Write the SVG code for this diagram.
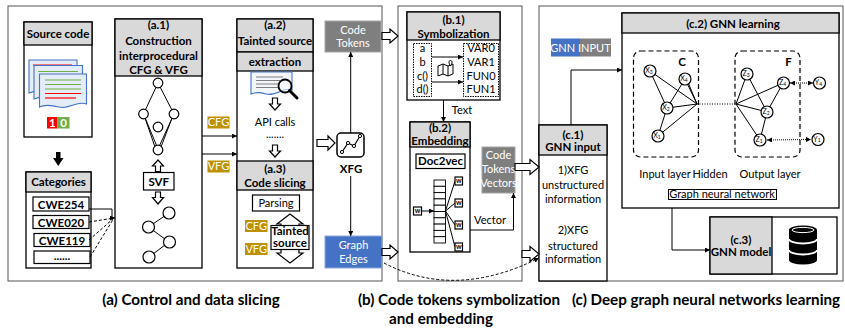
<svg xmlns="http://www.w3.org/2000/svg" width="845" height="329" viewBox="0 0 845 329">
<defs>
<style>
text{font-family:Lato,"Liberation Sans",Arial,sans-serif;fill:#000}
.h{font-size:11.5px;font-weight:bold;text-anchor:middle}
.n{font-size:11px;text-anchor:middle}
.w{fill:#fff}
.cap{font-size:15.2px;font-weight:bold;text-anchor:middle}
.panel{fill:#fff;stroke:#555;stroke-width:1}
.box{fill:#fff;stroke:#000;stroke-width:1.3}
.hdr{fill:#d9d9d9;stroke:#000;stroke-width:1.3}
.ln{fill:none;stroke:#000;stroke-width:1}
.dash{fill:none;stroke:#000;stroke-width:1;stroke-dasharray:3,2}
.blk{fill:#fff;stroke:#000;stroke-width:1.2}
.gold{fill:#bf9000}
.gray{fill:#7f7f7f;stroke:#a6a6a6;stroke-width:1}
.blue{fill:#4472c4;stroke:#8faadc;stroke-width:1}
.nd{fill:#fff;stroke:#000;stroke-width:1.2}
.lab{font-size:7px;text-anchor:middle}
.sub{font-size:5px}
.page{fill:#e4ecf7;stroke:#4472c4;stroke-width:1.1}
</style>
<marker id="ah" viewBox="0 0 6 6" refX="6" refY="3" markerWidth="5" markerHeight="5" markerUnits="userSpaceOnUse" orient="auto-start-reverse">
<path d="M0,0 L6,3 L0,6 z" fill="#000"/>
</marker>
</defs>

<!-- outer panels -->
<rect class="panel" x="8" y="6" width="374" height="275"/>
<rect class="panel" x="398" y="6" width="124" height="275"/>
<rect class="panel" x="539" y="6" width="304" height="275"/>

<!-- (a) source code -->
<g id="source-code">
<rect class="box" x="24" y="22" width="68" height="115"/>
<rect class="hdr" x="24" y="22" width="68" height="23"/>
<text class="h" x="58" y="37.5">Source code</text>
<path class="page" d="M29,60 H77 V90 C68,86 60,96 50,93 C42,91 36,90 29,93 Z"/>
<line x1="33" y1="65" x2="72" y2="65" stroke="#ff0000" stroke-width="1"/>
<path class="page" d="M34,65.5 H82.5 V96 C73,92 65,102 55,99 C47,97 41,96 34,99 Z"/>
<line x1="38" y1="71.5" x2="78" y2="71.5" stroke="#70ad47" stroke-width="1.2"/>
<path class="page" d="M39.5,74 H86.5 V104 C77,100 69,110 59,107 C51,105 45,104 39.5,107 Z" fill="#eef3fa"/>
<g stroke-width="1.2">
<line x1="45" y1="80" x2="81" y2="80" stroke="#70ad47"/>
<line x1="45" y1="84.5" x2="81" y2="84.5" stroke="#70ad47"/>
<line x1="45" y1="89" x2="81" y2="89" stroke="#70ad47"/>
<line x1="45" y1="93.5" x2="81" y2="93.5" stroke="#ff0000"/>
<line x1="45" y1="98" x2="76" y2="98" stroke="#ff0000"/>
</g>
<rect x="47" y="117" width="10.5" height="11.5" fill="#ff0000"/>
<rect x="57.5" y="117" width="12" height="11.5" fill="#70ad47"/>
<text class="h w" x="52.3" y="126.5">1</text>
<text class="h w" x="63.5" y="126.5">0</text>
</g>

<path id="down-arrow" d="M56,152 H60.5 V158 H63.5 L58.2,166 L53,158 H56 Z" fill="#000"/>

<!-- (a) categories -->
<g id="categories">
<rect class="box" x="26" y="172" width="65" height="96"/>
<rect class="hdr" x="26" y="172" width="65" height="20"/>
<text class="h" x="58.5" y="186" font-size="12">Categories</text>
<rect class="blk" x="33" y="197" width="56" height="14" stroke-width="1.6"/>
<text class="h" x="61" y="208.5" font-size="12">CWE254</text>
<rect class="blk" x="33" y="215.5" width="56" height="13" stroke-width="1.6"/>
<text class="h" x="61" y="226.5" font-size="12">CWE020</text>
<rect class="blk" x="34" y="233.5" width="56" height="13" stroke-width="1.6"/>
<text class="h" x="62" y="244.5" font-size="12">CWE119</text>
<rect class="blk" x="34" y="251" width="56" height="12.5" stroke-width="1.6"/>
<text class="h" x="62" y="259.5">......</text>
</g>

<!-- (a.1) -->
<g id="a1">
<rect class="box" x="115" y="19" width="87" height="249"/>
<rect class="hdr" x="115" y="19" width="87" height="57"/>
<text class="h" x="158.5" y="29">(a.1)</text>
<text class="h" x="158.5" y="44.5">Construction</text>
<text class="h" x="158.5" y="60">interprocedural</text>
<text class="h" x="158.5" y="74">CFG &amp; VFG</text>
<g class="ln" stroke-width="1.2">
<line x1="158" y1="83" x2="143.5" y2="114"/>
<line x1="158" y1="83" x2="174" y2="114"/>
<line x1="143.5" y1="114" x2="158" y2="149"/>
<line x1="174" y1="114" x2="158" y2="149"/>
<line x1="145" y1="118" x2="155" y2="147"/>
<line x1="172" y1="118" x2="161" y2="147"/>
</g>
<circle class="nd" cx="158" cy="83" r="4.8"/>
<circle class="nd" cx="143.5" cy="114" r="4.8"/>
<circle class="nd" cx="174" cy="114" r="4.8"/>
<circle class="nd" cx="158" cy="127" r="4.8"/>
<circle class="nd" cx="158" cy="150" r="4.8"/>
<path class="blk" d="M158,160 L163.5,166 H160.5 V171.5 H155.5 V166 H152.5 Z"/>
<rect class="blk" x="143.5" y="172.5" width="30.5" height="17.5"/>
<text class="h" x="158.8" y="185.5">SVF</text>
<path class="blk" d="M155.5,192 H160.5 V197.5 H163.5 L158,204 L152.5,197.5 H155.5 Z"/>
<g class="ln" stroke-width="1.2">
<line x1="169" y1="213" x2="148.5" y2="227"/>
<line x1="148.5" y1="227" x2="169" y2="242" marker-end="url(#ah)"/>
<line x1="169" y1="242" x2="149" y2="257" marker-end="url(#ah)"/>
</g>
<circle class="nd" cx="169" cy="213" r="6"/>
<circle class="nd" cx="148.5" cy="227" r="6"/>
<circle class="nd" cx="169.5" cy="242" r="6"/>
<circle class="nd" cx="149" cy="257" r="6"/>
</g>

<!-- CFG / VFG tags between a.1 and a.2 -->
<rect class="gold" x="207.5" y="116.5" width="22" height="12"/>
<text class="n w" x="218.5" y="126.3" font-size="10.5">CFG</text>
<rect class="gold" x="207.5" y="160.5" width="22" height="12"/>
<text class="n w" x="218.5" y="170.3" font-size="10.5">VFG</text>

<!-- (a.2) + (a.3) -->
<g id="a2">
<rect class="box" x="237" y="19" width="76" height="249"/>
<rect class="hdr" x="237" y="19" width="76" height="33"/>
<rect class="hdr" x="237" y="52" width="76" height="19"/>
<text class="h" x="275" y="29">(a.2)</text>
<text class="h" x="275" y="44.5">Tainted source</text>
<text class="h" x="275" y="66">extraction</text>
<path d="M251,72 H292 V90 C284,86 276,97 266,94 C259,92 255,92 251,94 Z" fill="#f2f5fa" stroke="#4472c4" stroke-width="1.1"/>
<g stroke="#7f7f7f" stroke-width="1">
<line x1="256" y1="77" x2="283" y2="77"/>
<line x1="256" y1="80.5" x2="280" y2="80.5"/>
<line x1="256" y1="84" x2="280" y2="84"/>
<line x1="256" y1="87.5" x2="279" y2="87.5"/>
</g>
<circle cx="285" cy="86" r="6.5" fill="#fff" fill-opacity="0.6" stroke="#000" stroke-width="1.8"/>
<line x1="289.5" y1="90.5" x2="297" y2="98" stroke="#000" stroke-width="3" stroke-linecap="round"/>
<path class="blk" d="M272.5,98 H277.5 V104 H280.5 L275,110 L269.5,104 H272.5 Z"/>
<text class="n" x="275" y="126">API calls</text>
<text class="n" x="275" y="137.5" font-size="8">.......</text>
<path class="blk" d="M272.5,145 H277.5 V151 H280.5 L275,157 L269.5,151 H272.5 Z"/>
</g>
<g id="a3">
<rect class="hdr" x="237" y="161" width="76" height="29"/>
<text class="h" x="275" y="173">(a.3)</text>
<text class="h" x="275" y="187">Code slicing</text>
<rect class="blk" x="252.5" y="195" width="47" height="16" stroke-width="1"/>
<text class="n" x="276" y="207">Parsing</text>
<rect class="gold" x="245" y="220" width="22.5" height="12"/>
<text class="n w" x="256.2" y="229.8" font-size="10.5">CFG</text>
<rect class="gold" x="245" y="243" width="22.5" height="12"/>
<text class="n w" x="256.2" y="252.8" font-size="10.5">VFG</text>
<path class="blk" d="M290,214 L303,224 H299 V253 H303 L290,263 L277,253 H281 V224 H277 Z"/>
<rect class="blk" x="271" y="225.5" width="38" height="24"/>
<text class="h" x="290" y="234.5" font-size="8.6">Tainted</text>
<text class="h" x="290" y="247" font-size="8.6">source</text>
</g>

<!-- code tokens / XFG / graph edges -->
<g id="code-tokens">
<rect class="gray" x="325" y="21" width="56" height="31"/>
<text class="n w" x="353" y="33.5" font-size="11.5">Code</text>
<text class="n w" x="353" y="47" font-size="11.5">Tokens</text>
</g>
<g id="xfg">
<rect x="337" y="133" width="27" height="24" rx="4" fill="#fff" stroke="#000" stroke-width="1.5"/>
<polyline points="342,152 348,143 354,146 360,136" fill="none" stroke="#000" stroke-width="1.2"/>
<circle cx="342" cy="152" r="1.6" fill="#fff" stroke="#000"/>
<circle cx="348" cy="143" r="1.6" fill="#fff" stroke="#000"/>
<circle cx="354" cy="146" r="1.6" fill="#fff" stroke="#000"/>
<circle cx="360" cy="136" r="1.6" fill="#fff" stroke="#000"/>
<text class="h" x="351" y="173">XFG</text>
</g>
<g id="graph-edges">
<rect class="blue" x="325" y="236" width="57" height="32"/>
<text class="n w" x="353.5" y="248.5" font-size="11.5">Graph</text>
<text class="n w" x="353.5" y="262.5" font-size="11.5">Edges</text>
</g>

<!-- (b.1) -->
<g id="b1">
<rect class="box" x="407" y="12" width="93" height="88"/>
<rect class="hdr" x="407" y="12" width="93" height="28"/>
<text class="h" x="453.5" y="24">(b.1)</text>
<text class="h" x="453.5" y="37.5">Symbolization</text>
<rect x="413.5" y="43.5" width="18" height="53" fill="#fff" stroke="#000" stroke-width="1" stroke-dasharray="1.5,1"/>
<rect x="463.5" y="43.5" width="35" height="53" fill="#fff" stroke="#000" stroke-width="1" stroke-dasharray="1.5,1"/>
<text class="n" x="422.5" y="52">a</text>
<text class="n" x="422.5" y="66">b</text>
<text class="n" x="422.5" y="80">c()</text>
<text class="n" x="422.5" y="93">d()</text>
<text class="n" x="481" y="52">VAR0</text>
<text class="n" x="481" y="66">VAR1</text>
<text class="n" x="481" y="80">FUN0</text>
<text class="n" x="481" y="93">FUN1</text>
<line class="ln" x1="432" y1="57" x2="463" y2="57" marker-end="url(#ah)"/>
<line class="ln" x1="432" y1="82" x2="463" y2="82" marker-end="url(#ah)"/>
<path d="M438,66 L443,64 L448,66 L453,64 V74 L448,76 L443,74 L438,76 Z M443,64 V74 M448,66 V76" fill="#fff" stroke="#000" stroke-width="1"/>
<path d="M450.5,66 C448.5,63 448.5,60.5 450.5,60.5 C452.5,60.5 452.5,63 450.5,66 Z" fill="#fff" stroke="#000" stroke-width="1"/>
</g>

<!-- (b.2) -->
<g id="b2">
<rect class="box" x="410" y="122" width="60" height="130"/>
<rect class="hdr" x="410" y="122" width="60" height="25"/>
<text class="h" x="440" y="132">(b.2)</text>
<text class="h" x="440" y="145">Embedding</text>
<rect class="blk" x="416" y="154" width="49" height="14.5" stroke-width="1"/>
<text class="h" x="440.5" y="165">Doc2vec</text>
<g fill="#fff" stroke="#000" stroke-width="0.9">
<rect x="434" y="180" width="11.5" height="6.3"/>
<rect x="434" y="186.3" width="11.5" height="6.3"/>
<rect x="434" y="192.6" width="11.5" height="6.3"/>
<rect x="434" y="198.9" width="11.5" height="6.3"/>
<rect x="434" y="205.2" width="11.5" height="6.3"/>
<rect x="434" y="211.5" width="11.5" height="6.3"/>
<rect x="434" y="217.8" width="11.5" height="6.3"/>
<rect x="434" y="224.1" width="11.5" height="6.3"/>
<rect x="434" y="230.4" width="11.5" height="6.3"/>
<rect x="434" y="236.7" width="11.5" height="6.3"/>
</g>
<rect class="blk" x="413.5" y="207" width="8" height="8"/>
<text class="lab" x="417.5" y="213.2" font-weight="bold" font-size="6.5">w</text>
<line class="ln" x1="421.5" y1="211" x2="434" y2="211" marker-end="url(#ah)"/>
<g class="ln">
<line x1="445.5" y1="211" x2="455" y2="181"/>
<line x1="445.5" y1="211" x2="455" y2="203"/>
<line x1="445.5" y1="211" x2="455" y2="225"/>
<line x1="445.5" y1="211" x2="455" y2="247"/>
</g>
<rect class="blk" x="455" y="177" width="7.5" height="8"/>
<text class="lab" x="458.7" y="183.2" font-weight="bold" font-size="6.5">w</text>
<rect class="blk" x="455" y="199" width="7.5" height="8"/>
<text class="lab" x="458.7" y="205.2" font-weight="bold" font-size="6.5">w</text>
<rect class="blk" x="455" y="221" width="7.5" height="8"/>
<text class="lab" x="458.7" y="227.2" font-weight="bold" font-size="6.5">w</text>
<rect class="blk" x="455" y="243" width="7.5" height="8"/>
<text class="lab" x="458.7" y="249.2" font-weight="bold" font-size="6.5">w</text>
</g>
<g id="code-tokens-vectors">
<rect class="gray" x="482" y="147" width="33" height="46"/>
<text class="n w" x="498.5" y="159">Code</text>
<text class="n w" x="498.5" y="173">Tokens</text>
<text class="n w" x="498.5" y="187">Vectors</text>
</g>

<!-- (c) GNN input legend -->
<g id="gnn-legend">
<rect x="551" y="38.5" width="29" height="18" fill="#4472c4"/>
<rect x="580" y="38.5" width="31" height="18" fill="#7f7f7f"/>
<text class="n w" x="580.5" y="51.5">GNN INPUT</text>
</g>

<!-- (c.1) -->
<g id="c1">
<rect class="box" x="539" y="125" width="68" height="156"/>
<rect class="hdr" x="539" y="125" width="68" height="30"/>
<text class="h" x="573" y="139">(c.1)</text>
<text class="h" x="573" y="151">GNN input</text>
<text class="n" x="573" y="174">1)XFG</text>
<text class="n" x="573" y="189">unstructured</text>
<text class="n" x="573" y="203">information</text>
<text class="n" x="573" y="234">2)XFG</text>
<text class="n" x="573" y="249.5">structured</text>
<text class="n" x="573" y="263">information</text>
</g>

<!-- (c.2) -->
<g id="c2">
<rect class="box" x="622" y="13" width="217" height="195"/>
<rect class="hdr" x="622" y="13" width="217" height="20"/>
<text class="h" x="733" y="27.5">(c.2)  GNN learning</text>
<rect x="633.5" y="51" width="65" height="106" rx="7" fill="none" stroke="#000" stroke-width="1.2" stroke-dasharray="5,3"/>
<rect x="735" y="51" width="65" height="106" rx="7" fill="none" stroke="#000" stroke-width="1.2" stroke-dasharray="5,3"/>
<text class="h" x="682" y="66">C</text>
<text class="h" x="788.5" y="66">F</text>
<g class="ln">
<line x1="650" y1="71" x2="697" y2="104"/>
<line x1="650" y1="71" x2="667" y2="108"/>
<line x1="685" y1="79" x2="697" y2="104"/>
<line x1="687" y1="80" x2="697" y2="104"/>
<line x1="685" y1="79" x2="667" y2="108"/>
<line x1="667" y1="108" x2="697" y2="104"/>
<line x1="667" y1="108" x2="658" y2="136"/>
<line x1="658" y1="136" x2="697" y2="104"/>
<line x1="697" y1="104" x2="736" y2="104" stroke-dasharray="1,1.5"/>
<line x1="736" y1="104" x2="747" y2="74"/>
<line x1="736" y1="104" x2="783" y2="83"/>
<line x1="736" y1="104" x2="767" y2="112"/>
<line x1="736" y1="104" x2="760" y2="140"/>
<line x1="747" y1="74" x2="767" y2="112"/>
<line x1="783" y1="83" x2="767" y2="112"/>
<line x1="767" y1="112" x2="760" y2="140"/>
<line x1="790" y1="83" x2="813" y2="83" stroke-dasharray="1,1" marker-start="url(#ah)" marker-end="url(#ah)"/>
<line x1="767" y1="140" x2="811" y2="139.5" stroke-dasharray="1,1" marker-start="url(#ah)" marker-end="url(#ah)"/>
</g>
<circle class="nd" cx="650" cy="71" r="6"/>
<text class="lab" x="649" y="73.3">X<tspan class="sub" dy="0.5">3</tspan></text>
<circle class="nd" cx="685" cy="79" r="6"/>
<text class="lab" x="684" y="81.3">X<tspan class="sub" dy="0.5">4</tspan></text>
<circle class="nd" cx="667" cy="108" r="6"/>
<text class="lab" x="666" y="110.3">X<tspan class="sub" dy="0.5">2</tspan></text>
<circle class="nd" cx="658" cy="136" r="6"/>
<text class="lab" x="657" y="138.3">X<tspan class="sub" dy="0.5">1</tspan></text>
<circle class="nd" cx="747" cy="74" r="6"/>
<text class="lab" x="746" y="76.3">Z<tspan class="sub" dy="0.5">3</tspan></text>
<circle class="nd" cx="783.5" cy="83" r="6"/>
<text class="lab" x="782.5" y="85.3">Z<tspan class="sub" dy="0.5">4</tspan></text>
<circle class="nd" cx="767" cy="112" r="6"/>
<text class="lab" x="766" y="114.3">Z<tspan class="sub" dy="0.5">2</tspan></text>
<circle class="nd" cx="760" cy="140" r="6"/>
<text class="lab" x="759" y="142.3">Z<tspan class="sub" dy="0.5">1</tspan></text>
<circle class="nd" cx="819.5" cy="83" r="6"/>
<text class="lab" x="818.5" y="85.3">Y<tspan class="sub" dy="0.5">4</tspan></text>
<circle class="nd" cx="818" cy="139.5" r="6"/>
<text class="lab" x="817" y="141.8">Y<tspan class="sub" dy="0.5">1</tspan></text>
<text class="n" x="665" y="178">Input layer</text>
<text class="n" x="710" y="178">Hidden</text>
<text class="n" x="770" y="178">Output layer</text>
<rect x="668.5" y="189.5" width="108" height="10" fill="#fff" stroke="#000" stroke-width="1"/>
<text class="n" x="722" y="198" font-size="10">Graph neural network</text>
</g>

<!-- (c.3) -->
<g id="c3">
<rect class="box" x="710" y="217" width="127" height="57"/>
<rect class="hdr" x="710" y="217" width="62" height="57"/>
<text class="h" x="741" y="243.5">(c.3)</text>
<text class="h" x="741" y="255.5">GNN model</text>
<path d="M789,230 A14,4.5 0 0 1 817,230 V260 A14,4.5 0 0 1 789,260 Z" fill="#000"/>
<ellipse cx="803" cy="230" rx="11" ry="2.6" fill="none" stroke="#fff" stroke-width="1"/>
<path d="M789,239 A14,4.5 0 0 0 817,239 M789,250 A14,4.5 0 0 0 817,250" fill="none" stroke="#fff" stroke-width="1.8"/>
</g>

<!-- connectors -->
<g id="connectors">
<path class="ln" d="M89,209 H112 V218 H115" marker-end="url(#ah)"/>
<line class="dash" x1="89" y1="222" x2="114" y2="218"/>
<line class="dash" x1="89" y1="240" x2="114" y2="218"/>
<line class="dash" x1="90" y1="257" x2="114" y2="218"/>
<line class="ln" x1="202" y1="136" x2="237" y2="136" marker-end="url(#ah)"/>
<line class="ln" x1="202" y1="154" x2="237" y2="154" marker-end="url(#ah)"/>
<path class="blk" d="M317,139.5 H328 V136 L335,143 L328,150 V146.5 H317 Z"/>
<line class="ln" x1="350.7" y1="133" x2="350.7" y2="52" marker-end="url(#ah)"/>
<line class="ln" x1="350.7" y1="176" x2="350.7" y2="236" marker-end="url(#ah)"/>
<path class="blk" d="M382,32.5 H390 V29 L398,36 L390,43 V39.5 H382 Z"/>
<path class="blk" d="M382,248.5 H390 V245 L398,252 L390,259 V255.5 H382 Z"/>
<line class="ln" x1="443.5" y1="100" x2="443.5" y2="122" marker-end="url(#ah)"/>
<text class="n" x="462" y="114">Text</text>
<path class="ln" d="M470,230 H513.5 V193" marker-end="url(#ah)"/>
<text class="n" x="490" y="224">Vector</text>
<path class="blk" d="M515,163.5 H530 V159.5 L539,167 L530,174.5 V170.5 H515 Z"/>
<path class="blk" d="M522,250.5 H530 V246.5 L539,254 L530,261.5 V257.5 H522 Z"/>
<path class="dash" d="M384,263 Q455,300 539,258" marker-end="url(#ah)"/>
<path class="ln" d="M571,125 V70 H622" marker-end="url(#ah)"/>
<path class="ln" d="M672,208 V250 H710" marker-end="url(#ah)"/>
</g>

<!-- captions -->
<text class="cap" x="191" y="305">(a) Control and data slicing</text>
<text class="cap" x="459" y="305">(b) Code tokens symbolization</text>
<text class="cap" x="441" y="324">and embedding</text>
<text class="cap" x="706" y="305">(c) Deep graph neural networks learning</text>
</svg>
